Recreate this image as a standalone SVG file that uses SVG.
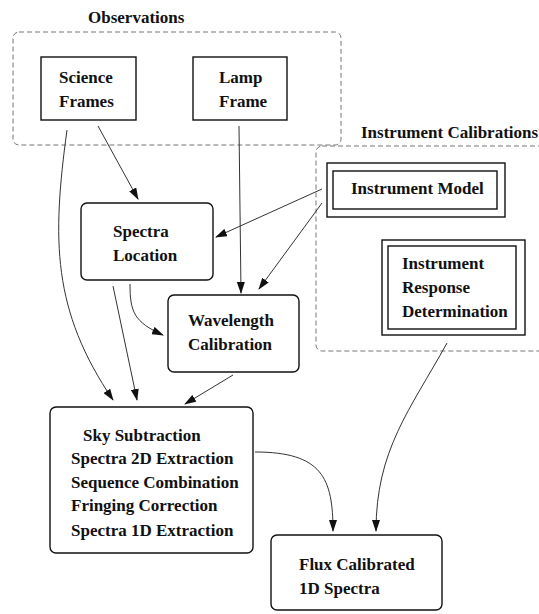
<svg xmlns="http://www.w3.org/2000/svg" width="539" height="614" viewBox="0 0 539 614">
<style>
text{font-family:"Liberation Serif","Times New Roman",serif;font-weight:bold;font-size:17px;fill:#111}
.box{fill:none;stroke:#111;stroke-width:1.4}
.grp{fill:none;stroke:#777;stroke-width:1;stroke-dasharray:5,3}
.c{fill:none;stroke:#333;stroke-width:1;marker-end:url(#ah)}
</style>
<defs>
<marker id="ah" markerWidth="12" markerHeight="8" refX="11" refY="4" orient="auto" markerUnits="userSpaceOnUse">
<path d="M0,0 L12,4 L0,8 Z" fill="#111"/>
</marker>
</defs>
<rect width="539" height="614" fill="#fff"/>
<g id="observations">
<rect class="grp" x="13" y="32" width="328" height="113" rx="6"/>
<text x="88" y="23">Observations</text>
</g>
<g id="instrument-calibrations">
<rect class="grp" x="316" y="146" width="240" height="205" rx="6"/>
<text x="361" y="138">Instrument Calibrations</text>
</g>
<g id="science-frames">
<rect class="box" x="41" y="57" width="95" height="63"/>
<text x="59" y="83">Science</text>
<text x="59" y="107">Frames</text>
</g>
<g id="lamp-frame">
<rect class="box" x="193" y="57" width="94" height="63"/>
<text x="219" y="83">Lamp</text>
<text x="219" y="107">Frame</text>
</g>
<g id="instrument-model">
<rect class="box" x="327" y="163" width="178" height="54"/>
<rect class="box" x="333" y="171" width="164" height="38"/>
<text x="351" y="194">Instrument Model</text>
</g>
<g id="instrument-response">
<rect class="box" x="382" y="240" width="143" height="95"/>
<rect class="box" x="388" y="246" width="128" height="83"/>
<text x="402" y="269">Instrument</text>
<text x="402" y="293">Response</text>
<text x="402" y="317">Determination</text>
</g>
<g id="spectra-location">
<rect class="box" x="81" y="203" width="132" height="77" rx="6"/>
<text x="113" y="237">Spectra</text>
<text x="113" y="261">Location</text>
</g>
<g id="wavelength-calibration">
<rect class="box" x="168" y="295" width="131" height="77" rx="6"/>
<text x="188" y="326">Wavelength</text>
<text x="188" y="350">Calibration</text>
</g>
<g id="reduction">
<rect class="box" x="50" y="407" width="203" height="146" rx="6"/>
<text x="83" y="441">Sky Subtraction</text>
<text x="71" y="464">Spectra 2D Extraction</text>
<text x="71" y="488">Sequence Combination</text>
<text x="71" y="511">Fringing Correction</text>
<text x="71" y="536">Spectra 1D Extraction</text>
</g>
<g id="flux-calibrated">
<rect class="box" x="271" y="535" width="171" height="75" rx="6"/>
<text x="299" y="570">Flux Calibrated</text>
<text x="299" y="594">1D Spectra</text>
</g>
<g id="connectors">
<path class="c" d="M67,130 C52,240 52,310 113,400"/>
<path class="c" d="M98,126 L138,199"/>
<path class="c" d="M239,126 L241,293"/>
<path class="c" d="M322,189 L216,237"/>
<path class="c" d="M322,203 L259,289"/>
<path class="c" d="M113,286 L137,400"/>
<path class="c" d="M130,284 C130,312 134,322 163,335"/>
<path class="c" d="M233,375 L185,404"/>
<path class="c" d="M255,452 C322,452 333,478 333,531"/>
<path class="c" d="M447,343 C410,410 376,450 376,531"/>
</g>
</svg>
